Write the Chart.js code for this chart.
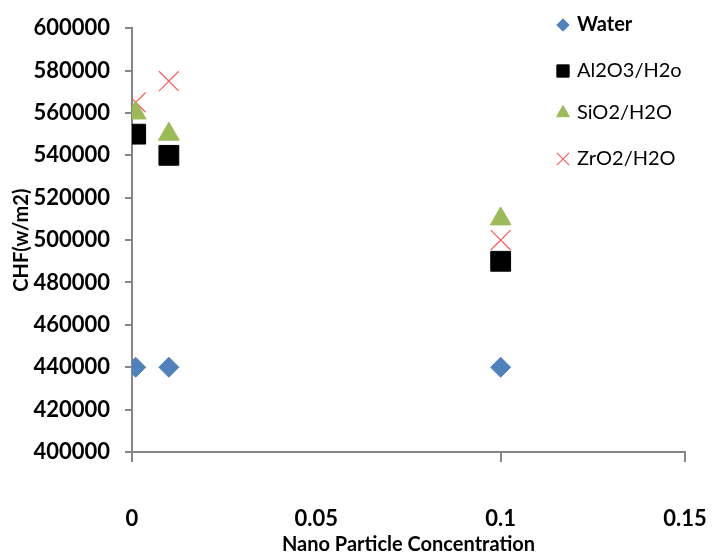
<!DOCTYPE html>
<html>
<head>
<meta charset="utf-8">
<script src="https://cdn.jsdelivr.net/npm/chart.js@4.4.1/dist/chart.umd.min.js"></script>
<style>
  html, body { margin: 0; padding: 0; background: #fff; }
  #wrap { width: 726px; height: 557px; position: relative; }
</style>
</head>
<body>
<div id="wrap"><canvas id="chf"></canvas></div>
<script>
// concentrations (x) and CHF values (y)
const concentrations = [0.001, 0.01, 0.1];
const water   = [440000, 440000, 440000];
const al2o3   = [550000, 540000, 490000];
const sio2    = [560000, 550000, 510000];
const zro2    = [565000, 575000, 500000];
const seriesNames = ['Water', 'Al2O3/H2o', 'SiO2/H2O', 'ZrO2/H2O'];
const xTicks = [0, 0.05, 0.1, 0.15];
const yMin = 400000, yMax = 600000, yStep = 20000;

const toPoints = vals => vals.map((v, i) => ({ x: concentrations[i], y: v }));

const styles = [
    { pointStyle: 'rectRot',  radius: 10, color: '#4f81bd', border: '#4f81bd', lw: 1 },
    { pointStyle: 'rect',     radius: 14, color: '#000000', border: '#000000', lw: 1 },
    { pointStyle: 'triangle', radius: 12, color: '#9bbb59', border: '#9bbb59', lw: 1 },
    { pointStyle: 'crossRot', radius: 14, color: 'rgba(0,0,0,0)', border: '#ff5a5a', lw: 1.2 }
];

const values = [water, al2o3, sio2, zro2];

// legend drawn inside the plot area, top right
const insideLegend = {
    id: 'insideLegend',
    afterDraw(chart) {
        const ctx = chart.ctx;
        const rows = [25, 71, 113, 159];
        ctx.save();
        ctx.textBaseline = 'middle';
        seriesNames.forEach((name, i) => {
            const s = styles[i];
            ctx.fillStyle = s.color;
            ctx.strokeStyle = s.border;
            ctx.lineWidth = s.lw;
            Chart.helpers.drawPoint(ctx, {
                pointStyle: s.pointStyle,
                radius: s.radius * 0.62,
                rotation: 0,
                borderWidth: s.lw
            }, 563, rows[i]);
            ctx.fillStyle = '#000';
            ctx.font = (i === 0 ? 'bold ' : '') + '20px Lato';
            ctx.fillText(name, 577, rows[i]);
        });
        ctx.restore();
    }
};

new Chart(document.getElementById('chf'), {
    type: 'scatter',
    data: {
        datasets: seriesNames.map((name, i) => ({
            label: name,
            data: toPoints(values[i]),
            pointStyle: styles[i].pointStyle,
            pointRadius: styles[i].radius,
            pointHoverRadius: styles[i].radius,
            backgroundColor: styles[i].color,
            borderColor: styles[i].border,
            borderWidth: styles[i].lw
        }))
    },
    options: {
        responsive: true,
        maintainAspectRatio: false,
        animation: false,
        layout: { padding: { left: 0, right: 41, top: 28, bottom: 0 } },
        plugins: {
            legend: { display: false },
            tooltip: { enabled: false }
        },
        scales: {
            x: {
                type: 'linear',
                min: 0,
                max: 0.15,
                afterBuildTicks: axis => { axis.ticks = xTicks.map(v => ({ value: v })); },
                afterFit: axis => { axis.height = 105; axis.paddingRight = 0; axis.paddingLeft = 0; },
                grid: {
                    drawOnChartArea: false,
                    drawTicks: true,
                    tickLength: 10,
                    color: c => (c.tick && c.tick.value === 0.05 ? 'rgba(0,0,0,0)' : '#868686'),
                    lineWidth: 2
                },
                border: { color: '#868686', width: 2 },
                ticks: {
                    color: '#000',
                    font: { family: 'Lato', size: 22, weight: 'bold' },
                    padding: 44,
                    maxRotation: 0,
                    callback: v => String(v)
                },
                title: {
                    display: true,
                    text: 'Nano Particle Concentration',
                    color: '#000',
                    font: { family: 'Lato', size: 20, weight: 'bold' },
                    padding: { top: 0, bottom: 0 }
                }
            },
            y: {
                min: yMin,
                max: yMax,
                afterFit: axis => { axis.width = 132; },
                grid: { drawOnChartArea: false, drawTicks: true, tickLength: 7, color: '#868686', lineWidth: 2 },
                border: { color: '#868686', width: 2 },
                ticks: {
                    stepSize: yStep,
                    color: '#000',
                    font: { family: 'Lato', size: 22, weight: 'bold' },
                    padding: 15,
                    callback: v => String(v)
                },
                title: {
                    display: true,
                    text: 'CHF(w/m2)',
                    color: '#000',
                    font: { family: 'Lato', size: 20, weight: 'bold' },
                    padding: { top: 10, bottom: 0 }
                }
            }
        }
    },
    plugins: [insideLegend]
});
</script>
</body>
</html>
